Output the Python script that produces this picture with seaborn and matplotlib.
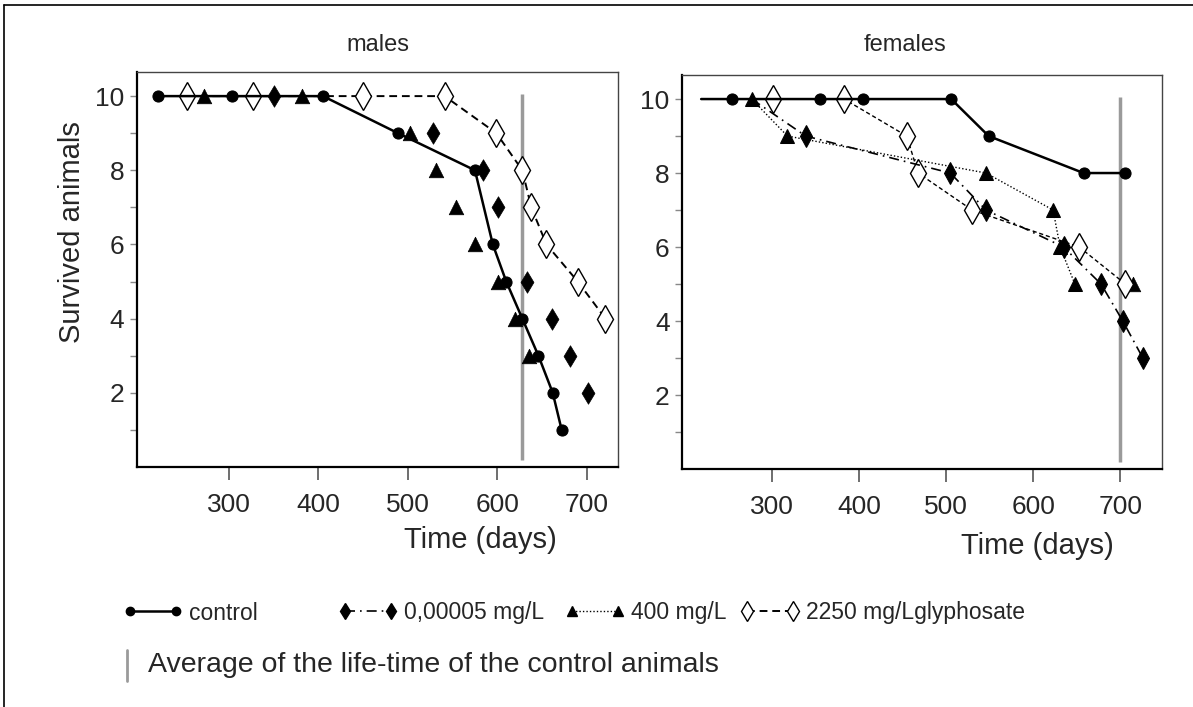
import numpy as np
import matplotlib.pyplot as plt
import seaborn as sns
from matplotlib.lines import Line2D

# ---- males (days, surviving animals) ----
m_ctrl_days = [221, 303, 405, 489, 575, 595, 610, 628, 646, 662, 672]
m_ctrl_n = [10, 10, 10, 9, 8, 6, 5, 4, 3, 2, 1]
m_low_days = [350, 528, 584, 601, 633, 661, 681, 702]
m_low_n = [10, 9, 8, 7, 5, 4, 3, 2]
m_mid_days = [272, 382, 502, 531, 554, 575, 601, 620, 636]
m_mid_n = [10, 10, 9, 8, 7, 6, 5, 4, 3]
m_high_days = [253, 327, 450, 541, 599, 628, 638, 655, 690, 721]
m_high_n = [10, 10, 10, 10, 9, 8, 7, 6, 5, 4]

# ---- females ----
f_ctrl_days = [219, 254, 355, 405, 506, 549, 658, 706]
f_ctrl_n = [10, 10, 10, 10, 10, 9, 8, 8]
f_low_days = [277, 339, 505, 546, 635, 678, 703, 726]
f_low_n = [10, 9, 8, 7, 6, 5, 4, 3]
f_mid_days = [277, 318, 546, 623, 631, 648, 715]
f_mid_n = [10, 9, 8, 7, 6, 5, 5]
f_high_days = [301, 383, 455, 468, 530, 653, 706]
f_high_n = [10, 10, 9, 8, 7, 6, 5]

# average life-time of control animals
m_mean_life = 628
f_mean_life = 700

labels = ['control', '0,00005 mg/L', '400 mg/L', '2250 mg/Lglyphosate']

sns.set_style("ticks")
plt.rcParams['font.family'] = ['Liberation Sans', 'DejaVu Sans']

fig = plt.figure(figsize=(11.93, 7.07), dpi=100)
ax_m = fig.add_axes([137 / 1193, 1 - 467 / 707, 481 / 1193, 395 / 707])
ax_f = fig.add_axes([682 / 1193, 1 - 469 / 707, 480 / 1193, 394 / 707])

ctrl_kw = dict(color='black', marker='o', markersize=8, linestyle='-', linewidth=1.8,
               markeredgecolor='black', markerfacecolor='black')
low_kw = dict(color='black', marker='d', markersize=11, linestyle=(0, (6, 3, 1, 3)), linewidth=1.2,
              markeredgecolor='black', markerfacecolor='black')
mid_kw = dict(color='black', marker='^', markersize=10, linestyle=(0, (1, 1.5)), linewidth=1.0,
              markeredgecolor='black', markerfacecolor='black')
high_kw = dict(color='black', marker='d', markersize=14, linestyle=(0, (4, 2.5)), linewidth=1.4,
               markeredgecolor='black', markerfacecolor='white', markeredgewidth=1.0)

# males: control and 2250 with lines, other two only markers
ax_m.vlines(m_mean_life, 0.2, 10.05, color='#9a9a9a', linewidth=2.5, zorder=1)
sns.lineplot(x=m_high_days, y=m_high_n, ax=ax_m, sort=False, legend=False, **high_kw)
sns.lineplot(x=m_ctrl_days, y=m_ctrl_n, ax=ax_m, sort=False, legend=False, **ctrl_kw)
sns.scatterplot(x=m_low_days, y=m_low_n, ax=ax_m, marker='d', s=120, color='black',
                edgecolor='black', linewidth=0.5, legend=False)
sns.scatterplot(x=m_mid_days, y=m_mid_n, ax=ax_m, marker='^', s=110, color='black',
                edgecolor='black', linewidth=0.5, legend=False)

# females
ax_f.vlines(f_mean_life, 0.2, 10.05, color='#9a9a9a', linewidth=2.5, zorder=1)
f_high_kw = dict(high_kw, linewidth=1.0, linestyle=(0, (3, 2)))
sns.lineplot(x=f_high_days, y=f_high_n, ax=ax_f, sort=False, legend=False, **f_high_kw)
sns.lineplot(x=f_mid_days[:-1], y=f_mid_n[:-1], ax=ax_f, sort=False, legend=False, **mid_kw)
sns.scatterplot(x=f_mid_days[-1:], y=f_mid_n[-1:], ax=ax_f, marker='^', s=110, color='black',
                edgecolor='black', linewidth=0.5, legend=False)
sns.lineplot(x=f_low_days, y=f_low_n, ax=ax_f, sort=False, legend=False,
             markevery=list(range(1, len(f_low_days))), **low_kw)
sns.lineplot(x=f_ctrl_days, y=f_ctrl_n, ax=ax_f, sort=False, legend=False,
             markevery=list(range(1, len(f_ctrl_days))), **ctrl_kw)

for ax, xr in ((ax_m, (197, 735)), (ax_f, (197, 748))):
    ax.set_xlim(*xr)
    ax.set_ylim(0, 10.65)
    ax.set_xticks([300, 400, 500, 600, 700])
    ax.set_yticks([2, 4, 6, 8, 10])
    ax.set_yticks([1, 3, 5, 7, 9], minor=True)
    ax.set_xlabel('')
    ax.set_ylabel('')
    ax.tick_params(axis='y', which='both', direction='out', length=5, width=1,
                   color='#888888', labelsize=19, pad=4, left=True)
    ax.tick_params(axis='x', direction='out', length=9, width=1.2, color='#555555',
                   labelsize=19, pad=10, bottom=True)
    for side in ('top', 'right'):
        ax.spines[side].set_visible(True)
        ax.spines[side].set_linewidth(1.0)
        ax.spines[side].set_color('#444444')
    for side in ('left', 'bottom'):
        ax.spines[side].set_linewidth(1.6)
        ax.spines[side].set_color('black')

fig.text(378 / 1193, 1 - 45 / 707, 'males', ha='center', va='center', fontsize=17)
fig.text(905 / 1193, 1 - 45 / 707, 'females', ha='center', va='center', fontsize=17)
fig.text(480 / 1193, 1 - 540 / 707, 'Time (days)', ha='center', va='center', fontsize=21)
fig.text(1037 / 1193, 1 - 546 / 707, 'Time (days)', ha='center', va='center', fontsize=21)
fig.text(72 / 1193, 1 - 232 / 707, 'Survived animals', ha='center', va='center',
         rotation=90, fontsize=21)

# legend row 1
handles = [Line2D([], [], **ctrl_kw), Line2D([], [], **low_kw),
           Line2D([], [], **mid_kw), Line2D([], [], **high_kw)]
leg_x = [123, 338, 565, 740]
for h, lab, x in zip(handles, labels, leg_x):
    fig.legend([h], [lab], loc='center left', bbox_to_anchor=(x / 1193, 1 - 613 / 707),
               frameon=False, numpoints=2, handlelength=2.6, handletextpad=0.3,
               markerscale=0.75, borderpad=0, borderaxespad=0, fontsize=16.5)

# legend row 2
fig.add_artist(Line2D([127 / 1193, 127 / 1193], [1 - 650 / 707, 1 - 681 / 707],
                      transform=fig.transFigure, color='#9a9a9a', linewidth=2))
fig.text(148 / 1193, 1 - 665 / 707, 'Average of the life-time of the control animals',
         ha='left', va='center', fontsize=20.5)

# figure frame (top and left edges)
fig.add_artist(Line2D([4 / 1193, 1], [1 - 5 / 707, 1 - 5 / 707], transform=fig.transFigure,
                      color='black', linewidth=1.2))
fig.add_artist(Line2D([4 / 1193, 4 / 1193], [0, 1 - 5 / 707], transform=fig.transFigure,
                      color='black', linewidth=1.2))

fig.savefig('out.png', dpi=100)
